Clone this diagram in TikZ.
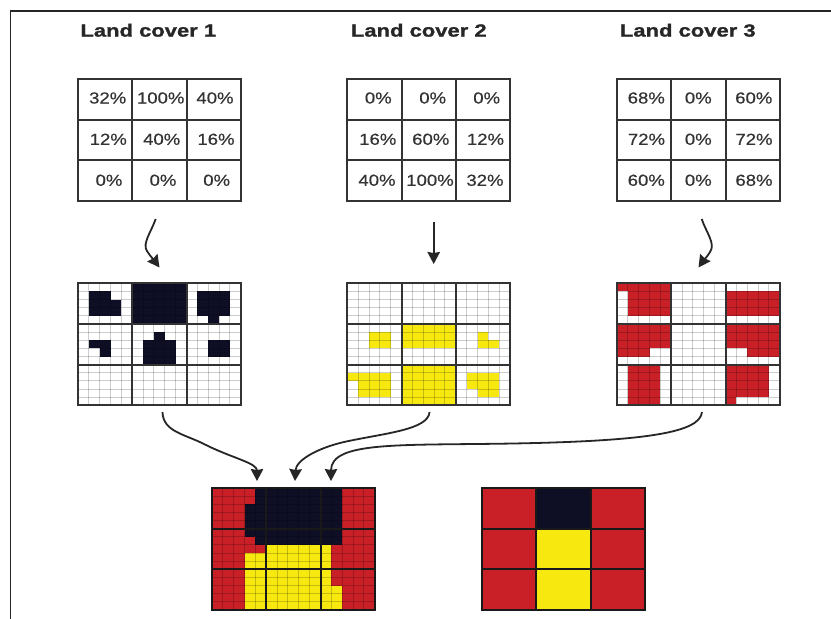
\documentclass[tikz,border=0pt]{standalone}
\usepackage{fontspec}
\usetikzlibrary{arrows.meta}
\newfontfamily\pctfont[FakeStretch=1.16,FakeBold=0.4]{Liberation Sans}
\newfontfamily\ttlfont[FakeStretch=1.25,FakeBold=1.2]{Liberation Sans Bold}
\definecolor{lcnavy}{HTML}{0E0E25}
\definecolor{lcyellow}{HTML}{F7E80F}
\definecolor{lcred}{HTML}{C92027}
\definecolor{lcline}{HTML}{333333}
\tikzset{
  pct/.style={font=\pctfont\fontsize{16}{17}\selectfont, text=lcline, inner sep=0pt},
  ttl/.style={font=\ttlfont\fontsize{17.6}{18}\selectfont, text=black!85, inner sep=0pt},
  gridbox/.style={draw=lcline, line width=2pt, minimum width=162.8pt, minimum height=122pt, inner sep=0pt, outer sep=0pt, anchor=north west},
  coarse/.style={draw=lcline, line width=2pt},
  fine/.style={draw=black, line width=1pt, opacity=0.2},
  wire/.style={draw=black!85, line width=1.8pt, -{Stealth[length=12pt,width=12.5pt,inset=1pt]}},
  framing/.style={draw=black!85, line width=1.8pt},
}
% #1 x0, #2 y0, #3 colour, #4,#5 first col, end col, #6,#7 first row, end row
\newcommand{\lcfill}[7]{\fill[#3] ({#1+#4*162.8/15},{#2+#6*122/15}) rectangle ({#1+#5*162.8/15},{#2+#7*122/15});}
\newcommand{\lcfine}[2]{%
  \foreach \i in {1,...,14}{
    \draw[fine] ({#1+\i*162.8/15},#2) -- ({#1+\i*162.8/15},{#2+122});
    \draw[fine] (#1,{#2+\i*122/15}) -- ({#1+162.8},{#2+\i*122/15});
  }}
\newcommand{\lccoarse}[3]{%
  \node[gridbox] (#3) at (#1,#2) {};
  \foreach \i in {1,2}{
    \draw[coarse] ({#1+\i*162.8/3},#2) -- ({#1+\i*162.8/3},{#2+122});
    \draw[coarse] (#1,{#2+\i*122/3}) -- ({#1+162.8},{#2+\i*122/3});
  }}
\begin{document}
\begin{tikzpicture}[x=1pt,y=-1pt]
\useasboundingbox (0,0) rectangle (831,619);
\fill[white] (0,0) rectangle (831,619);
\coordinate (fa) at (10.5,619);
\coordinate (fb) at (10.5,11);
\coordinate (fc) at (831,11);
\draw[framing] (fa) -- (fb) -- (fc);

% titles
\node[ttl] (t1) at (148.3,30.3) {Land cover 1};
\node[ttl] (t2) at (418.8,30.3) {Land cover 2};
\node[ttl] (t3) at (687.8,30.3) {Land cover 3};

% percentage tables
\lccoarse{78}{79}{ta}
\lccoarse{347.3}{79}{tb}
\lccoarse{617}{79}{tc}
\node[pct] (a11) at (107.7,98) {32\%};
\node[pct] (a12) at (160.7,98) {100\%};
\node[pct] (a13) at (215,98) {40\%};
\node[pct] (a21) at (108.3,139.3) {12\%};
\node[pct] (a22) at (161.7,139.3) {40\%};
\node[pct] (a23) at (216,139.3) {16\%};
\node[pct] (a31) at (109,180.3) {0\%};
\node[pct] (a32) at (163,180.3) {0\%};
\node[pct] (a33) at (216.7,180.3) {0\%};
\node[pct] (b11) at (378.3,98) {0\%};
\node[pct] (b12) at (432.7,98) {0\%};
\node[pct] (b13) at (486.7,98) {0\%};
\node[pct] (b21) at (377.8,139.3) {16\%};
\node[pct] (b22) at (430.8,139.3) {60\%};
\node[pct] (b23) at (485.5,139.3) {12\%};
\node[pct] (b31) at (377,180.3) {40\%};
\node[pct] (b32) at (430,180.3) {100\%};
\node[pct] (b33) at (485,180.3) {32\%};
\node[pct] (c11) at (646.3,98) {68\%};
\node[pct] (c12) at (698.3,98) {0\%};
\node[pct] (c13) at (753.8,98) {60\%};
\node[pct] (c21) at (646.5,139.3) {72\%};
\node[pct] (c22) at (698.3,139.3) {0\%};
\node[pct] (c23) at (754,139.3) {72\%};
\node[pct] (c31) at (646.3,180.3) {60\%};
\node[pct] (c32) at (698.3,180.3) {0\%};
\node[pct] (c33) at (754,180.3) {68\%};

% land cover 1 raster
\def\gx{78}\def\gy{283.3}
\lcfill{\gx}{\gy}{lcnavy}{1}{3}{1}{4}
\lcfill{\gx}{\gy}{lcnavy}{3}{4}{2}{4}
\lcfill{\gx}{\gy}{lcnavy}{5}{10}{0}{5}
\lcfill{\gx}{\gy}{lcnavy}{11}{14}{1}{4}
\lcfill{\gx}{\gy}{lcnavy}{12}{13}{4}{5}
\lcfill{\gx}{\gy}{lcnavy}{1}{3}{7}{8}
\lcfill{\gx}{\gy}{lcnavy}{2}{3}{8}{9}
\lcfill{\gx}{\gy}{lcnavy}{6}{9}{7}{10}
\lcfill{\gx}{\gy}{lcnavy}{7}{8}{6}{7}
\lcfill{\gx}{\gy}{lcnavy}{12}{14}{7}{9}
\lcfine{\gx}{\gy}
\lccoarse{\gx}{\gy}{ra}

% land cover 2 raster
\def\gx{347.3}\def\gy{283.3}
\lcfill{\gx}{\gy}{lcyellow}{2}{4}{6}{8}
\lcfill{\gx}{\gy}{lcyellow}{5}{10}{5}{8}
\lcfill{\gx}{\gy}{lcyellow}{12}{13}{6}{8}
\lcfill{\gx}{\gy}{lcyellow}{13}{14}{7}{8}
\lcfill{\gx}{\gy}{lcyellow}{0}{4}{11}{12}
\lcfill{\gx}{\gy}{lcyellow}{1}{4}{12}{14}
\lcfill{\gx}{\gy}{lcyellow}{5}{10}{10}{15}
\lcfill{\gx}{\gy}{lcyellow}{11}{14}{11}{13}
\lcfill{\gx}{\gy}{lcyellow}{12}{14}{13}{14}
\lcfine{\gx}{\gy}
\lccoarse{\gx}{\gy}{rb}

% land cover 3 raster
\def\gx{617}\def\gy{283.3}
\lcfill{\gx}{\gy}{lcred}{0}{5}{0}{1}
\lcfill{\gx}{\gy}{lcred}{1}{5}{1}{4}
\lcfill{\gx}{\gy}{lcred}{10}{15}{1}{4}
\lcfill{\gx}{\gy}{lcred}{0}{5}{5}{8}
\lcfill{\gx}{\gy}{lcred}{0}{3}{8}{9}
\lcfill{\gx}{\gy}{lcred}{10}{15}{5}{8}
\lcfill{\gx}{\gy}{lcred}{12}{15}{8}{9}
\lcfill{\gx}{\gy}{lcred}{1}{4}{10}{15}
\lcfill{\gx}{\gy}{lcred}{10}{14}{10}{14}
\lcfill{\gx}{\gy}{lcred}{10}{11}{14}{15}
\lcfine{\gx}{\gy}
\lccoarse{\gx}{\gy}{rc}

% combined raster
\def\gx{212}\def\gy{488}
\lcfill{\gx}{\gy}{lcred}{0}{15}{0}{15}
\lcfill{\gx}{\gy}{lcnavy}{4}{12}{0}{2}
\lcfill{\gx}{\gy}{lcnavy}{3}{12}{2}{6}
\lcfill{\gx}{\gy}{lcnavy}{4}{12}{6}{7}
\lcfill{\gx}{\gy}{lcyellow}{5}{11}{7}{8}
\lcfill{\gx}{\gy}{lcyellow}{3}{11}{8}{12}
\lcfill{\gx}{\gy}{lcyellow}{3}{12}{12}{15}
\lcfine{\gx}{\gy}
\begin{scope}[gridbox/.append style={draw=black!90},coarse/.append style={draw=black!90}]
\lccoarse{\gx}{\gy}{rd}
\end{scope}

% majority raster
\def\gx{482}\def\gy{488}
\lcfill{\gx}{\gy}{lcred}{0}{5}{0}{15}
\lcfill{\gx}{\gy}{lcred}{10}{15}{0}{15}
\lcfill{\gx}{\gy}{lcnavy}{5}{10}{0}{5}
\lcfill{\gx}{\gy}{lcyellow}{5}{10}{5}{15}
\begin{scope}[gridbox/.append style={draw=black!90},coarse/.append style={draw=black!90}]
\lccoarse{\gx}{\gy}{re}
\end{scope}

% connectors, table to raster
\coordinate (s1) at (155.7,219);
\coordinate (e1) at (159.5,267.5);
\coordinate (s2) at (433.7,222);
\coordinate (e2) at (433.7,264);
\coordinate (s3) at (701.7,219);
\coordinate (e3) at (698.5,267.5);
\draw[wire] (s1) .. controls (151,232) and (142,244) .. (147,251) .. controls (150,256) and (154,260) .. (e1);
\draw[wire] (s2) -- (e2);
\draw[wire] (s3) .. controls (706,232) and (716,244) .. (710,252) .. controls (707,257) and (703,261) .. (e3);

% connectors, raster to combined raster
\coordinate (s4) at (162.5,412);
\coordinate (e4) at (257,481);
\coordinate (s5) at (429.6,412);
\coordinate (e5) at (295,481);
\coordinate (s6) at (702,412);
\coordinate (e6) at (331,481);
\draw[wire] (s4) .. controls (163,432) and (185,434) .. (206,445) .. controls (232,458) and (257,463) .. (e4);
\draw[wire] (s5) .. controls (428,430) and (385,433) .. (344,442) .. controls (318,448) and (296,460) .. (e5);
\draw[wire] (s6) .. controls (700,432) and (650,441) .. (513,443.5) .. controls (400,445.5) and (331,441) .. (e6);
\end{tikzpicture}
\end{document}
